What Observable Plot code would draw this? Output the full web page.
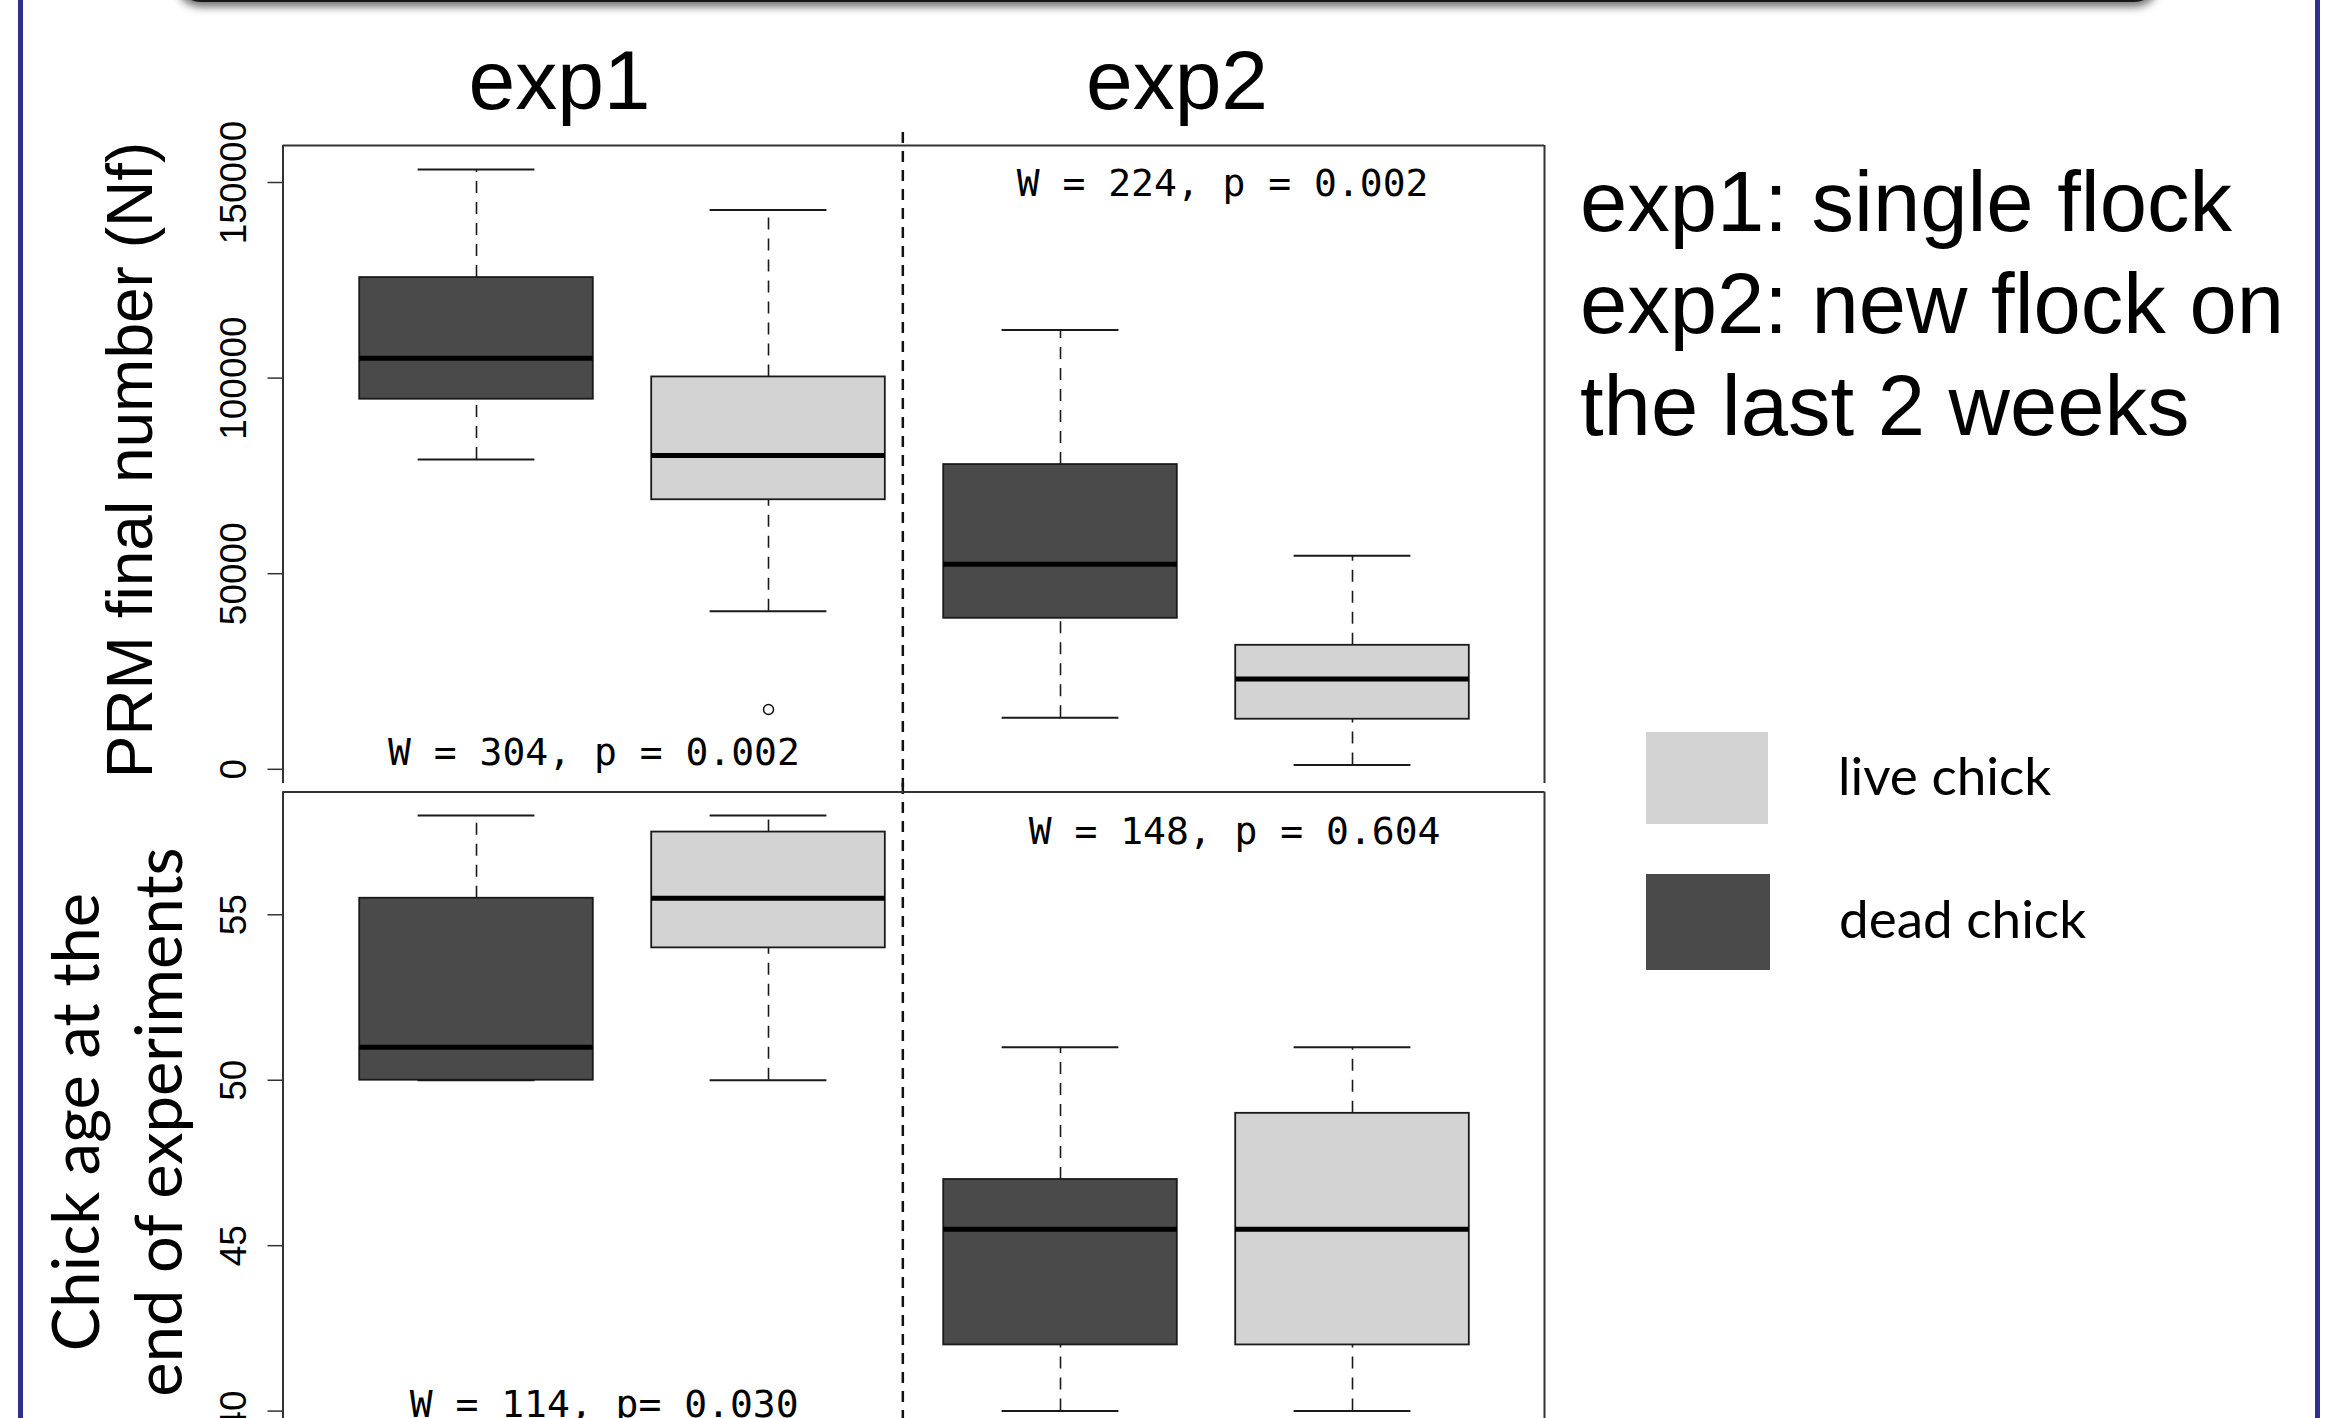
<!DOCTYPE html>
<html>
<head>
<meta charset="utf-8">
<script src="https://cdn.jsdelivr.net/npm/d3@7"></script>
<script src="https://cdn.jsdelivr.net/npm/@observablehq/plot@0.6"></script>
<style>
  html, body { margin: 0; padding: 0; background: #ffffff; }
  #page { position: relative; width: 2350px; height: 1418px; overflow: hidden; background: #ffffff; }
  .abs { position: absolute; white-space: nowrap; color: #000; }
  .arial { font-family: "Liberation Sans", Arial, sans-serif; }
  .lato { font-family: Lato, "Noto Sans", sans-serif; }
  #topPanel, #bottomPanel { position: absolute; left: 0; }
  #topPanel svg, #bottomPanel svg { background: transparent; overflow: visible; }
</style>
</head>
<body>
<div id="page">
  <div class="abs" style="left:175px;top:-80px;width:1985px;height:82px;background:#161616;border-radius:0 0 26px 26px;box-shadow:0 5px 8px rgba(0,0,0,0.55);"></div>
  <div class="abs" style="left:18px;top:0;width:5px;height:1418px;background:#2f318d;"></div>
  <div class="abs" style="left:2315px;top:0;width:5px;height:1418px;background:#2f318d;"></div>

  <div id="topPanel" style="top:0;"></div>
  <div id="bottomPanel" style="top:783px;"></div>

  <div class="abs arial" style="font-size:84px;line-height:84px;top:38px;left:559.5px;transform:translateX(-50%);">exp1</div>
  <div class="abs arial" style="font-size:84px;line-height:84px;top:38px;left:1177px;transform:translateX(-50%);">exp2</div>

  <div class="abs arial" style="font-size:85px;line-height:102px;top:151px;left:1580px;">exp1: single flock<br>exp2: new flock on<br>the last 2 weeks</div>

  <div class="abs arial" style="font-size:64px;line-height:64px;left:129.5px;top:460px;transform:translate(-50%,-50%) rotate(-90deg);">PRM final number (Nf)</div>
  <div class="abs lato" style="font-size:65px;line-height:83px;left:116px;top:1122px;text-align:center;transform:translate(-50%,-50%) rotate(-90deg);">Chick age at the<br>end of experiments</div>

  <div class="abs" id="swLive" style="left:1646px;top:732px;width:122px;height:92px;"></div>
  <div class="abs" id="swDead" style="left:1646px;top:874px;width:124px;height:96px;"></div>
  <div class="abs lato" id="lgLive" style="font-size:53px;line-height:53px;left:1838px;top:748px;"></div>
  <div class="abs lato" id="lgDead" style="font-size:53px;line-height:53px;left:1839px;top:891px;"></div>
</div>
<script>
// ---------- data ----------
const groups = ["exp1 dead", "exp1 live", "exp2 dead", "exp2 live"];
const status = ["dead chick", "live chick", "dead chick", "live chick"];
const statusLabels = ["live chick", "dead chick"];
const statusColors = ["#d3d3d3", "#4a4a4a"];

// PRM final number (Nf)
const prmLow    = [79200, 40400, 13200, 1100];
const prmQ1     = [94600, 68900, 38600, 12800];
const prmMedian = [105100, 80200, 52400, 23100];
const prmQ3     = [125700, 100300, 77900, 31700];
const prmHigh   = [153300, 143000, 112300, 54600];
const prmOutlierGroup = ["exp1 live"];
const prmOutlierValue = [15300];
const prmTicks = [0, 50000, 100000, 150000];

// Chick age at the end of experiments
const ageLow    = [50, 50, 40, 40];
const ageQ1     = [50, 54, 42, 42];
const ageMedian = [51, 55.5, 45.5, 45.5];
const ageQ3     = [55.5, 57.5, 47, 49];
const ageHigh   = [58, 58, 51, 51];
const ageTicks = [40, 45, 50, 55];

// Wilcoxon test annotations
const prmTestText = ["W = 224, p = 0.002", "W = 304, p = 0.002"];
const prmTestX = [3.555, 1.402];
const prmTestY = [149700, 4150];
const ageTestText = ["W = 148, p = 0.604", "W = 114, p= 0.030"];
const ageTestX = [3.596, 1.437];
const ageTestY = [57.52, 40.2];

const experimentBreak = 2.46;

// ---------- helpers ----------
const colorOf = s => statusColors[statusLabels.indexOf(s)];
function table(low, q1, med, q3, high) {
  return groups.map((g, i) => ({group: g, pos: i + 1, status: status[i], low: low[i], q1: q1[i], med: med[i], q3: q3[i], high: high[i]}));
}
const xDomain = [0.3373, 4.6575];
const W = 1560, mL = 282.5, mR = 1560 - 1544;
const ink = "#1a1a1a";

function boxMarks(data) {
  return [
    Plot.ruleX(data, {x: "pos", y1: "q3", y2: "high", stroke: ink, strokeWidth: 1.6, strokeDasharray: "12,9"}),
    Plot.ruleX(data, {x: "pos", y1: "low", y2: "q1", stroke: ink, strokeWidth: 1.6, strokeDasharray: "12,9"}),
    Plot.ruleY(data, {y: "high", x1: d => d.pos - 0.2, x2: d => d.pos + 0.2, stroke: ink, strokeWidth: 2}),
    Plot.ruleY(data, {y: "low", x1: d => d.pos - 0.2, x2: d => d.pos + 0.2, stroke: ink, strokeWidth: 2}),
    Plot.rect(data, {x1: d => d.pos - 0.4, x2: d => d.pos + 0.4, y1: "q1", y2: "q3", fill: d => colorOf(d.status), stroke: ink, strokeWidth: 1.8}),
    Plot.ruleY(data, {y: "med", x1: d => d.pos - 0.4, x2: d => d.pos + 0.4, stroke: "#000", strokeWidth: 5})
  ];
}
function frameMarks(yDomain) {
  return [
    Plot.ruleX(xDomain, {y1: yDomain[0], y2: yDomain[1], stroke: "#333", strokeWidth: 2}),
    Plot.ruleY([yDomain[1]], {x1: xDomain[0], x2: xDomain[1], stroke: "#333", strokeWidth: 2})
  ];
}
function axisMarks(ticks) {
  return Plot.axisY({ticks, tickSize: 15, tickPadding: 22, tickRotate: -90, tickFormat: "d", label: null, fontSize: 37, stroke: "#333", strokeWidth: 1.5});
}

// ---------- top panel ----------
const prmData = table(prmLow, prmQ1, prmMedian, prmQ3, prmHigh);
const prmOutliers = prmOutlierGroup.map((g, i) => ({pos: groups.indexOf(g) + 1, value: prmOutlierValue[i]}));
const prmTests = prmTestText.map((t, i) => ({text: t, x: prmTestX[i], y: prmTestY[i]}));
const prmDomain = [-3630, 159460];

const prmPlot = Plot.plot({
  width: W, height: 791, marginTop: 145, marginBottom: 8, marginLeft: mL, marginRight: mR,
  style: {fontFamily: "'Liberation Sans', Arial, sans-serif", fontSize: "37px", background: "transparent", color: "#000"},
  x: {domain: xDomain, axis: null},
  y: {domain: prmDomain, axis: null},
  marks: [
    Plot.ruleX([experimentBreak], {y1: 162780, y2: -4650, stroke: "#111", strokeWidth: 2.5, strokeDasharray: "11,8"}),
    ...frameMarks(prmDomain),
    axisMarks(prmTicks),
    ...boxMarks(prmData),
    Plot.dot(prmOutliers, {x: "pos", y: "value", r: 5, stroke: "#111", fill: "white", strokeWidth: 1.5}),
    Plot.text(prmTests, {x: "x", y: "y", text: "text", fontFamily: "'DejaVu Sans Mono', monospace", fontSize: 38, textAnchor: "middle", fill: "#000"})
  ]
});
document.getElementById("topPanel").appendChild(prmPlot);

// ---------- bottom panel ----------
const ageData = table(ageLow, ageQ1, ageMedian, ageQ3, ageHigh);
const ageTests = ageTestText.map((t, i) => ({text: t, x: ageTestX[i], y: ageTestY[i]}));
const ageDomain = [39.399, 58.714];

const agePlot = Plot.plot({
  width: W, height: 657, marginTop: 8.4, marginBottom: 9.5, marginLeft: mL, marginRight: mR,
  style: {fontFamily: "'Liberation Sans', Arial, sans-serif", fontSize: "37px", background: "transparent", color: "#000"},
  x: {domain: xDomain, axis: null},
  y: {domain: ageDomain, axis: null},
  marks: [
    Plot.ruleX([experimentBreak], {y1: 58.968, y2: 38.5, stroke: "#111", strokeWidth: 2.5, strokeDasharray: "11,8"}),
    ...frameMarks(ageDomain),
    axisMarks(ageTicks),
    ...boxMarks(ageData),
    Plot.text(ageTests, {x: "x", y: "y", text: "text", fontFamily: "'DejaVu Sans Mono', monospace", fontSize: 38, textAnchor: "middle", fill: "#000"})
  ]
});
document.getElementById("bottomPanel").appendChild(agePlot);

// ---------- legend ----------
document.getElementById("swLive").style.background = statusColors[0];
document.getElementById("swDead").style.background = statusColors[1];
document.getElementById("lgLive").textContent = statusLabels[0];
document.getElementById("lgDead").textContent = statusLabels[1];
</script>
</body>
</html>
